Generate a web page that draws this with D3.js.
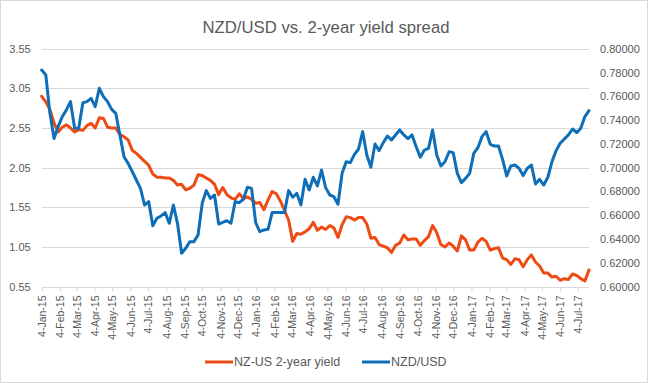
<!DOCTYPE html>
<html>
<head>
<meta charset="utf-8">
<script src="https://cdn.jsdelivr.net/npm/d3@7"></script>
<style>
  html, body { margin: 0; padding: 0; background: #fff; }
  svg { display: block; }
  text { font-family: "Liberation Sans", Arial, sans-serif; fill: #595959; }
</style>
</head>
<body>
<svg id="chart" width="648" height="383"></svg>
<script>
// ---- data (weekly observations starting 4-Jan-2015) ----
const startDate = "2015-01-04";
const endDate = "2017-07-23";
const yieldSpread = [
  2.95, 2.88, 2.78, 2.61, 2.50, 2.56, 2.59, 2.55, 2.50, 2.53,
  2.52, 2.58, 2.61, 2.55, 2.68, 2.67, 2.56, 2.55, 2.55, 2.47,
  2.44, 2.40, 2.27, 2.23, 2.18, 2.13, 2.08, 1.97, 1.93, 1.93,
  1.92, 1.92, 1.89, 1.83, 1.84, 1.77, 1.79, 1.83, 1.96, 1.95,
  1.92, 1.89, 1.84, 1.71, 1.80, 1.71, 1.67, 1.65, 1.72, 1.66,
  1.68, 1.65, 1.60, 1.61, 1.52, 1.64, 1.75, 1.72, 1.63, 1.51,
  1.39, 1.12, 1.22, 1.21, 1.24, 1.28, 1.36, 1.26, 1.30, 1.27,
  1.32, 1.29, 1.17, 1.33, 1.43, 1.42, 1.39, 1.42, 1.42, 1.34,
  1.16, 1.17, 1.08, 1.06, 1.04, 0.98, 1.07, 1.10, 1.20, 1.14,
  1.15, 1.15, 1.07, 1.13, 1.18, 1.32, 1.23, 1.08, 1.05, 1.10,
  1.06, 1.00, 1.19, 1.14, 1.01, 1.01, 1.11, 1.16, 1.12, 1.01,
  1.03, 1.04, 0.91, 0.89, 0.83, 0.90, 0.89, 0.80, 0.89, 0.95,
  0.86, 0.81, 0.72, 0.72, 0.67, 0.68, 0.63, 0.65, 0.64, 0.71,
  0.69, 0.65, 0.62, 0.76
];
const nzdusd = [
  0.7821, 0.7779, 0.7457, 0.7246, 0.7345, 0.7429, 0.7485, 0.7555, 0.7331, 0.7331,
  0.7546, 0.7555, 0.7583, 0.7513, 0.7667, 0.7597, 0.7555, 0.7490, 0.7457, 0.7275,
  0.7092, 0.7036, 0.6966, 0.6896, 0.6826, 0.6686, 0.6714, 0.6512, 0.6574, 0.6594,
  0.6622, 0.6532, 0.6686, 0.6532, 0.6280, 0.6322, 0.6378, 0.6378, 0.6434, 0.6700,
  0.6807, 0.6742, 0.6770, 0.6526, 0.6540, 0.6554, 0.6532, 0.6714, 0.6706, 0.6734,
  0.6835, 0.6826, 0.6538, 0.6462, 0.6476, 0.6482, 0.6622, 0.6622, 0.6622, 0.6622,
  0.6807, 0.6751, 0.6784, 0.6686, 0.6902, 0.6812, 0.6919, 0.6846, 0.6980, 0.6832,
  0.6770, 0.6756, 0.6692, 0.6952, 0.7050, 0.7042, 0.7112, 0.7157, 0.7303, 0.7106,
  0.7003, 0.7199, 0.7143, 0.7210, 0.7266, 0.7233, 0.7275, 0.7317, 0.7275, 0.7244,
  0.7275, 0.7176, 0.7087, 0.7148, 0.7162, 0.7317, 0.7106, 0.7014, 0.7050, 0.7134,
  0.7126, 0.6952, 0.6874, 0.6910, 0.6952, 0.7120, 0.7168, 0.7261, 0.7303, 0.7196,
  0.7182, 0.7182, 0.7070, 0.6930, 0.7014, 0.7022, 0.6994, 0.6933, 0.6994, 0.7022,
  0.6863, 0.6902, 0.6854, 0.6919, 0.7050, 0.7143, 0.7205, 0.7241, 0.7275, 0.7325,
  0.7294, 0.7331, 0.7429, 0.7479
];
const leftTicks = [0.55, 1.05, 1.55, 2.05, 2.55, 3.05, 3.55];
const rightTicks = [0.60, 0.62, 0.64, 0.66, 0.68, 0.70, 0.72, 0.74, 0.76, 0.78, 0.80];
const seriesNames = ["NZ-US 2-year yield", "NZD/USD"];
const seriesColors = ["#EE4A14", "#0E6EB8"];
const title = "NZD/USD vs. 2-year yield spread";

// ---- layout ----
const W = 648, H = 383;
const m = { left: 41.7, right: 589, top: 48.7, bottom: 286.6 };
const svg = d3.select("#chart");

svg.append("rect").attr("x", 0.5).attr("y", 0.5).attr("width", W - 1).attr("height", H - 1)
  .attr("fill", "#fff").attr("stroke", "#D9D9D9");

const parse = d3.utcParse("%Y-%m-%d");
const t0 = parse(startDate), t1 = parse(endDate);
const dates = yieldSpread.map((_, i) => d3.utcDay.offset(t0, 7 * i));

const x = d3.scaleUtc().domain([t0, t1]).range([m.left, m.right]);
const yL = d3.scaleLinear().domain([0.55, 3.55]).range([m.bottom, m.top]);
const yR = d3.scaleLinear().domain([0.60, 0.80]).range([m.bottom, m.top]);

// title
svg.append("text").attr("x", 326).attr("y", 33).attr("text-anchor", "middle")
  .attr("font-size", 17).attr("textLength", 247).attr("lengthAdjust", "spacingAndGlyphs")
  .text(title);

// gridlines
svg.append("g").selectAll("line").data(leftTicks.slice(1)).join("line")
  .attr("x1", m.left).attr("x2", m.right)
  .attr("y1", d => Math.round(yL(d)) + 0.5).attr("y2", d => Math.round(yL(d)) + 0.5)
  .attr("stroke", "#D9D9D9").attr("stroke-width", 1);

// left axis
const gL = svg.append("g").attr("transform", `translate(${m.left - 11},0)`)
  .call(d3.axisLeft(yL).tickValues(leftTicks).tickFormat(d3.format(".2f")).tickSize(0).tickPadding(0));
gL.select(".domain").remove();
gL.selectAll("text").attr("font-size", 11).attr("fill", "#595959").attr("font-family", "Liberation Sans, Arial, sans-serif");

// right axis
const gR = svg.append("g").attr("transform", `translate(${m.right + 11},0)`)
  .call(d3.axisRight(yR).tickValues(rightTicks).tickFormat(d3.format(".5f")).tickSize(0).tickPadding(0));
gR.select(".domain").remove();
gR.selectAll("text").attr("font-size", 11).attr("fill", "#595959").attr("font-family", "Liberation Sans, Arial, sans-serif");

// x axis
const monthTicks = d3.utcMonth.range(d3.utcMonth.floor(t0), t1).map(d => d3.utcDay.offset(d, 3));
const gX = svg.append("g").attr("transform", `translate(0,${Math.round(m.bottom) + 0.5})`)
  .call(d3.axisBottom(x).tickValues(monthTicks).tickFormat(d3.utcFormat("%-d-%b-%y")).tickSize(4).tickSizeOuter(0));
gX.select(".domain").attr("stroke", "#D9D9D9").attr("d", `M${m.left},0H${m.right}`);
gX.selectAll(".tick line").attr("stroke", "#D9D9D9");
gX.selectAll("text")
  .attr("font-size", 10.5).attr("fill", "#595959")
  .attr("font-family", "Liberation Sans Narrow, DejaVu Sans Condensed, Liberation Sans, Arial, sans-serif")
  .attr("text-anchor", "end").attr("dy", "0.35em")
  .attr("transform", "translate(0,8) rotate(-90)").attr("x", 0).attr("y", 0);

// lines
const lineL = d3.line().x((d, i) => x(dates[i])).y(d => yL(d));
const lineR = d3.line().x((d, i) => x(dates[i])).y(d => yR(d));
svg.append("path").datum(yieldSpread).attr("d", lineL).attr("fill", "none")
  .attr("stroke", seriesColors[0]).attr("stroke-width", 3).attr("stroke-linejoin", "round").attr("stroke-linecap", "round");
svg.append("path").datum(nzdusd).attr("d", lineR).attr("fill", "none")
  .attr("stroke", seriesColors[1]).attr("stroke-width", 3).attr("stroke-linejoin", "round").attr("stroke-linecap", "round");

// legend
const legendX = [205, 362];
const lg = svg.append("g").selectAll("g").data(seriesNames).join("g")
  .attr("transform", (d, i) => `translate(${legendX[i]},362)`);
lg.append("line").attr("x1", 0).attr("x2", 28).attr("y1", 0).attr("y2", 0)
  .attr("stroke", (d, i) => seriesColors[i]).attr("stroke-width", 3);
lg.append("text").attr("x", 29).attr("y", 0).attr("dy", "0.35em")
  .attr("font-size", 12.5).text(d => d);
</script>
</body>
</html>
